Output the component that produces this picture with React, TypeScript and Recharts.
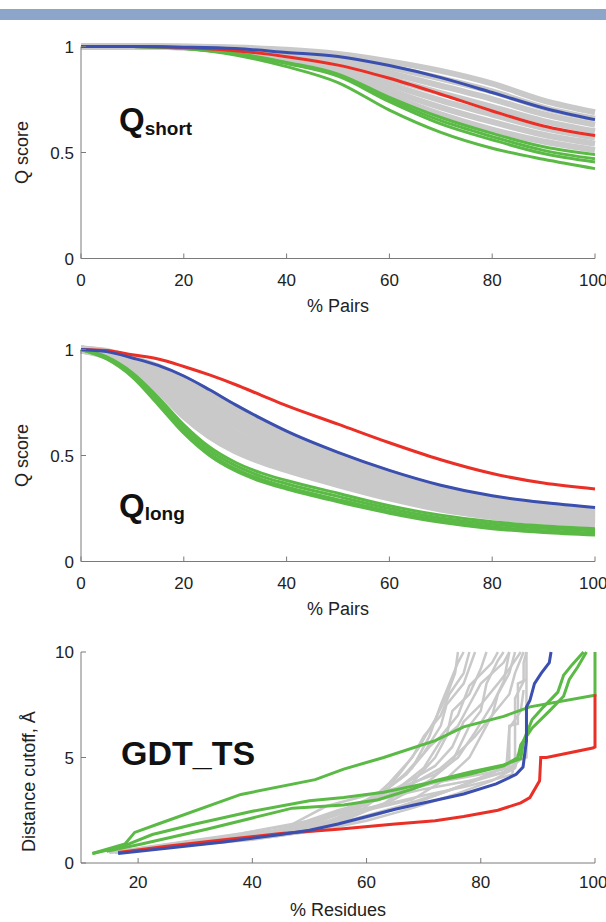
import { LineChart, Line, XAxis, YAxis, Label } from "recharts";

const FONT = '"Liberation Sans", Arial, Helvetica, sans-serif';
const RED = "#ea2f26";
const BLUE = "#3b4fae";
const GREEN = "#5aba45";
const GREY = "#c9c9c9";
const AXIS = "#7a7a7a";

// ---- Q short ----
const xsShort = [0, 10, 20, 30, 40, 50, 60, 70, 80, 90, 100];
const blueShort = [1, 1, 0.997, 0.99, 0.972, 0.953, 0.91, 0.853, 0.783, 0.71, 0.655];
const redShort = [1, 1, 0.995, 0.98, 0.952, 0.912, 0.85, 0.775, 0.696, 0.625, 0.58];
const greenShort = [
  [1, 1, 0.99, 0.96, 0.905, 0.83, 0.7, 0.595, 0.52, 0.468, 0.424],
  [1, 1, 0.992, 0.965, 0.92, 0.86, 0.74, 0.635, 0.56, 0.495, 0.455],
  [1, 1, 0.992, 0.966, 0.922, 0.865, 0.75, 0.65, 0.575, 0.51, 0.47],
  [1, 1, 0.993, 0.968, 0.925, 0.87, 0.76, 0.665, 0.59, 0.527, 0.49],
];
const greyShort = [
  [1, 1, 0.995, 0.975, 0.94, 0.875, 0.77, 0.68, 0.608, 0.552, 0.512],
  [1, 1, 0.996, 0.978, 0.948, 0.892, 0.795, 0.713, 0.644, 0.584, 0.542],
  [1, 1, 0.997, 0.982, 0.955, 0.906, 0.821, 0.746, 0.679, 0.615, 0.57],
  [1, 1, 0.998, 0.985, 0.963, 0.92, 0.848, 0.78, 0.715, 0.648, 0.6],
  [1, 1, 0.998, 0.988, 0.97, 0.935, 0.875, 0.815, 0.752, 0.681, 0.631],
  [1, 1, 0.999, 0.992, 0.977, 0.95, 0.902, 0.849, 0.788, 0.712, 0.659],
  [1, 1, 1, 0.995, 0.985, 0.965, 0.93, 0.885, 0.825, 0.745, 0.69],
];

// ---- Q long ----
const xsLong = [0, 5, 10, 15, 20, 25, 30, 35, 40, 50, 60, 70, 80, 90, 100];
const redLong = [1, 0.995, 0.975, 0.955, 0.92, 0.88, 0.835, 0.785, 0.735, 0.648, 0.56, 0.48, 0.415, 0.37, 0.342];
const blueLong = [1, 0.99, 0.96, 0.925, 0.875, 0.81, 0.74, 0.675, 0.615, 0.515, 0.43, 0.36, 0.31, 0.278, 0.255];
const greenLong = [
  [1, 0.965, 0.89, 0.775, 0.645, 0.54, 0.468, 0.418, 0.382, 0.322, 0.263, 0.218, 0.188, 0.168, 0.155],
  [1, 0.962, 0.885, 0.765, 0.63, 0.525, 0.453, 0.403, 0.367, 0.307, 0.25, 0.205, 0.176, 0.157, 0.145],
  [1, 0.958, 0.875, 0.75, 0.615, 0.51, 0.438, 0.388, 0.352, 0.292, 0.237, 0.193, 0.164, 0.145, 0.133],
  [1, 0.955, 0.87, 0.74, 0.605, 0.5, 0.428, 0.378, 0.342, 0.282, 0.228, 0.185, 0.155, 0.137, 0.125],
];
const greyLong = [
  [1, 0.97, 0.905, 0.81, 0.69, 0.595, 0.525, 0.475, 0.435, 0.365, 0.302, 0.25, 0.215, 0.19, 0.175],
  [1, 0.974, 0.915, 0.831, 0.724, 0.634, 0.564, 0.511, 0.467, 0.392, 0.325, 0.269, 0.231, 0.205, 0.188],
  [1, 0.977, 0.925, 0.852, 0.758, 0.674, 0.604, 0.547, 0.499, 0.419, 0.347, 0.288, 0.247, 0.22, 0.201],
  [1, 0.981, 0.935, 0.873, 0.792, 0.714, 0.644, 0.584, 0.532, 0.446, 0.369, 0.307, 0.263, 0.235, 0.214],
  [1, 0.984, 0.945, 0.894, 0.826, 0.754, 0.684, 0.622, 0.566, 0.473, 0.392, 0.326, 0.279, 0.25, 0.227],
  [1, 0.988, 0.955, 0.915, 0.86, 0.795, 0.725, 0.66, 0.6, 0.5, 0.415, 0.345, 0.295, 0.265, 0.24],
];

// ---- GDT_TS: [% residues, cutoff] ----
const redGdt = [[16.5, 0.5], [25, 0.8], [35, 1.1], [45, 1.4], [55, 1.6], [65, 1.85], [72, 2.0], [77, 2.2], [83, 2.5], [87, 2.85], [88.6, 3.1], [90.3, 3.9], [90.5, 5.0], [91.5, 5.0], [99.6, 5.45], [100, 5.5], [100, 8.0]];
const blueGdt = [[16.5, 0.45], [25, 0.7], [35, 1.0], [45, 1.35], [50, 1.55], [55, 1.85], [65, 2.55], [77, 3.27], [82.7, 3.75], [86.2, 4.2], [87.4, 4.55], [88, 5.8], [88, 7.4], [88.6, 7.7], [89.4, 8.5], [90.6, 9.0], [92, 9.5], [92.3, 10]];
const greenGdt = [
  [[12, 0.45], [17.7, 0.9], [19.4, 1.45], [23.5, 1.85], [38, 3.25], [51, 3.95], [56, 4.45], [63, 5.0], [72, 5.8], [77, 6.45], [84, 6.95], [88.6, 7.4], [100, 7.95], [100, 10]],
  [[12, 0.45], [17, 0.75], [22.5, 1.35], [30, 1.85], [40, 2.45], [50, 2.95], [56, 3.1], [63, 3.35], [70, 3.75], [78, 4.2], [84, 4.6], [86.5, 5.0], [87, 5.6], [89, 6.4], [92, 7.2], [94.5, 7.9], [95.5, 8.7], [97, 9.3], [98.5, 10]],
  [[14.5, 0.55], [20.6, 0.9], [32, 1.6], [44, 2.4], [47, 2.6], [56, 2.75], [62, 3.0], [68, 3.5], [72, 3.9], [78, 4.3], [84, 4.65], [87, 4.95], [87.5, 5.8], [89, 6.8], [91, 7.4], [93.5, 8.1], [94.5, 8.9], [96, 9.4], [98, 10]],
];
const greyGdt = [
  [[15, 0.5], [25, 0.75], [40, 1.1], [50, 1.5], [58, 2.3], [63, 3.3], [66, 4.3], [69, 5.4], [72, 6.8], [74, 7.9], [75.5, 9.0], [76, 10]],
  [[16, 0.5], [25, 0.8], [40, 1.25], [52, 1.8], [60, 2.8], [64, 3.8], [68, 5.0], [70, 6.0], [73, 7.0], [74.5, 8.0], [77, 9.0], [78, 10]],
  [[17, 0.5], [30, 0.95], [45, 1.4], [55, 2.0], [62, 3.2], [66, 4.0], [70, 5.2], [73, 6.5], [74, 7.5], [77, 8.5], [79, 10]],
  [[15, 0.5], [30, 0.95], [45, 1.45], [55, 1.9], [63, 2.8], [68, 3.8], [72, 5.0], [74, 6.0], [75, 7.2], [78, 8.0], [80, 9.2], [81, 10]],
  [[16, 0.55], [28, 0.95], [42, 1.4], [54, 2.2], [61, 3.0], [67, 4.2], [71, 5.5], [73, 6.0], [76, 7.0], [78, 8.4], [82, 9.5], [83, 10]],
  [[18, 0.55], [30, 1.0], [45, 1.5], [56, 2.4], [64, 3.2], [70, 4.5], [73, 5.8], [76, 6.5], [78, 7.5], [80, 8.5], [84, 9.5], [85, 10]],
  [[17, 0.5], [32, 1.05], [47, 1.6], [57, 2.6], [65, 3.5], [72, 4.6], [75, 5.5], [77, 6.7], [80, 7.5], [83, 8.5], [85, 9.2], [87, 10]],
  [[18, 0.55], [35, 1.15], [50, 1.8], [60, 2.8], [67, 3.6], [73, 4.5], [76, 5.2], [79, 6.0], [82, 7.0], [85, 8.0], [86, 9.0], [87.5, 10]],
  [[16, 0.5], [30, 0.9], [44, 1.25], [54, 1.7], [62, 2.3], [70, 3.0], [77, 3.7], [82, 4.3], [86, 4.8], [88, 5.0], [88, 10]],
  [[17, 0.5], [32, 0.95], [46, 1.35], [56, 1.9], [64, 2.5], [72, 3.2], [79, 3.9], [84, 4.3], [85, 4.5], [85, 6.5], [86.5, 6.6], [86.5, 8.5], [88, 8.7]],
  [[18, 0.55], [34, 1.0], [48, 1.45], [58, 2.1], [66, 2.7], [74, 3.4], [80, 4.0], [84.5, 4.6], [85, 6.4], [87, 7.2], [87.5, 8.2]],
  [[15, 0.5], [28, 0.85], [42, 1.2], [52, 1.55], [60, 2.0], [68, 2.6], [76, 3.3], [82, 3.9], [86, 4.5], [87, 5.5]],
  [[19, 0.6], [35, 1.2], [50, 1.75], [60, 2.5], [68, 3.0], [74, 4.0], [78, 5.0], [80, 6.0], [82, 7.0], [83, 8.0], [85, 9.0], [86, 10]],
  [[16, 0.5], [30, 0.95], [44, 1.4], [53, 2.2], [60, 3.0], [64, 3.6], [68, 4.5], [71, 6.0], [73, 7.5], [74.5, 8.5], [76, 9.5], [77, 10]],
  [[17, 0.5], [33, 1.0], [48, 1.5], [57, 2.3], [64, 2.9], [71, 3.9], [75, 4.8], [78, 6.5], [80, 7.2], [81, 8.5], [83, 9.6], [84, 10]],
  [[18, 0.6], [35, 1.25], [48, 1.85], [55, 2.5], [62, 3.0], [70, 3.5], [78, 3.9], [84, 4.3], [86, 4.6], [86, 7.8], [87.5, 8.6], [87.5, 9.5], [88, 10]],
  [[20, 0.7], [38, 1.4], [52, 2.1], [58, 2.7], [65, 3.3], [72, 3.8], [80, 4.2], [85, 4.5], [87, 4.9]],
  [[16, 0.55], [30, 1.05], [45, 1.55], [53, 2.7], [60, 3.2], [66, 3.6], [72, 4.2], [76, 5.0], [79, 6.2], [82, 7.5], [84, 8.6], [85, 10]],
  [[17, 0.55], [33, 1.1], [47, 1.65], [54, 2.3], [62, 2.7], [70, 3.2], [77, 3.6], [83, 4.0], [85.5, 4.2], [86, 5.0], [87, 5.3]],
];

const tickStyle = { fontSize: 17, fill: "#222", fontFamily: FONT };
const titleStyle = { fontSize: 18, fill: "#222", fontFamily: FONT };

const shortData = xsShort.map((x, i) => {
  const row: Record<string, number> = { x, blue: blueShort[i], red: redShort[i] };
  greenShort.forEach((s, k) => (row["g" + k] = s[i]));
  greyShort.forEach((s, k) => (row["s" + k] = s[i]));
  return row;
});

const longData = xsLong.map((x, i) => {
  const row: Record<string, number> = { x, blue: blueLong[i], red: redLong[i] };
  greenLong.forEach((s, k) => (row["g" + k] = s[i]));
  greyLong.forEach((s, k) => (row["s" + k] = s[i]));
  return row;
});

const toPts = (pts: number[][]) => pts.map(([x, y]) => ({ x, y }));

function QPanel({ data, nGrey, nGreen, greyWidth, top }: any) {
  return (
    <div style={{ position: "absolute", left: 0, top, width: 606, height: 320 }}>
      <LineChart width={606} height={320} data={data} margin={{ top: 49.5, right: 11, bottom: 8.5, left: 0 }}>
        <XAxis dataKey="x" type="number" domain={[0, 100]} ticks={[0, 20, 40, 60, 80, 100]}
          stroke={AXIS} tickSize={-5} tickMargin={20} tick={tickStyle} height={50}>
          <Label value="% Pairs" position="insideBottom" offset={-3} style={titleStyle} />
        </XAxis>
        <YAxis type="number" domain={[0, 1]} ticks={[0, 0.5, 1]} stroke={AXIS} width={81}
          tickSize={-5} tickMargin={12} tick={tickStyle}>
          <Label value="Q score" angle={-90} position="center" dx={-19} style={titleStyle} />
        </YAxis>
        {Array.from({ length: nGrey }, (_, k) => (
          <Line key={"s" + k} dataKey={"s" + k} type="monotone" stroke={GREY} strokeWidth={greyWidth} dot={false} isAnimationActive={false} />
        ))}
        {Array.from({ length: nGreen }, (_, k) => (
          <Line key={"g" + k} dataKey={"g" + k} type="monotone" stroke={GREEN} strokeWidth={3} dot={false} isAnimationActive={false} />
        ))}
        <Line dataKey="red" type="monotone" stroke={RED} strokeWidth={3} dot={false} isAnimationActive={false} />
        <Line dataKey="blue" type="monotone" stroke={BLUE} strokeWidth={3} dot={false} isAnimationActive={false} />
      </LineChart>
    </div>
  );
}

export default function App() {
  return (
    <div style={{ position: "absolute", left: 0, top: 0, width: 606, height: 922, background: "#fff", overflow: "hidden", fontFamily: FONT }}>
      <div style={{ position: "absolute", left: 0, top: 9, width: 606, height: 11, background: "#8ea5ca" }} />
      <QPanel data={shortData} nGrey={greyShort.length} nGreen={greenShort.length} greyWidth={6} top={-3.5} />
      <QPanel data={longData} nGrey={greyLong.length} nGreen={greenLong.length} greyWidth={8} top={300} />
      <div style={{ position: "absolute", left: 0, top: 600, width: 606, height: 322 }}>
        <LineChart width={606} height={322} margin={{ top: 52, right: 11, bottom: 9, left: 0 }}>
          <XAxis dataKey="x" type="number" domain={[10, 100]} ticks={[20, 40, 60, 80, 100]}
            stroke={AXIS} tickSize={-5} tickMargin={18} tick={tickStyle} height={50} allowDuplicatedCategory={false}>
            <Label value="% Residues" position="insideBottom" offset={-3} style={titleStyle} />
          </XAxis>
          <YAxis dataKey="y" type="number" domain={[0, 10]} ticks={[0, 5, 10]} stroke={AXIS} width={81}
            tickSize={-5} tickMargin={12} tick={tickStyle}>
            <Label value="Distance cutoff, Å" angle={-90} position="center" dx={-12} dy={24} style={titleStyle} />
          </YAxis>
          {greyGdt.map((p, k) => (
            <Line key={"s" + k} data={toPts(p)} dataKey="y" type="linear" stroke={GREY} strokeWidth={2.5} dot={false} isAnimationActive={false} />
          ))}
          {greenGdt.map((p, k) => (
            <Line key={"g" + k} data={toPts(p)} dataKey="y" type="linear" stroke={GREEN} strokeWidth={3} dot={false} isAnimationActive={false} />
          ))}
          <Line data={toPts(redGdt)} dataKey="y" type="linear" stroke={RED} strokeWidth={3} dot={false} isAnimationActive={false} />
          <Line data={toPts(blueGdt)} dataKey="y" type="linear" stroke={BLUE} strokeWidth={3} dot={false} isAnimationActive={false} />
        </LineChart>
      </div>
      <svg width={606} height={922} style={{ position: "absolute", left: 0, top: 0, pointerEvents: "none" }}>
        <text x={119} y={131} fontSize={33} fontWeight="bold" fill="#111" fontFamily={FONT}>
          Q<tspan fontSize={19} dy={4}>short</tspan>
        </text>
        <text x={119} y={517} fontSize={33} fontWeight="bold" fill="#111" fontFamily={FONT}>
          Q<tspan fontSize={19} dy={3}>long</tspan>
        </text>
        <text x={121} y={765} fontSize={34} fontWeight="bold" fill="#111" fontFamily={FONT}>
          GDT_TS
        </text>
      </svg>
    </div>
  );
}
